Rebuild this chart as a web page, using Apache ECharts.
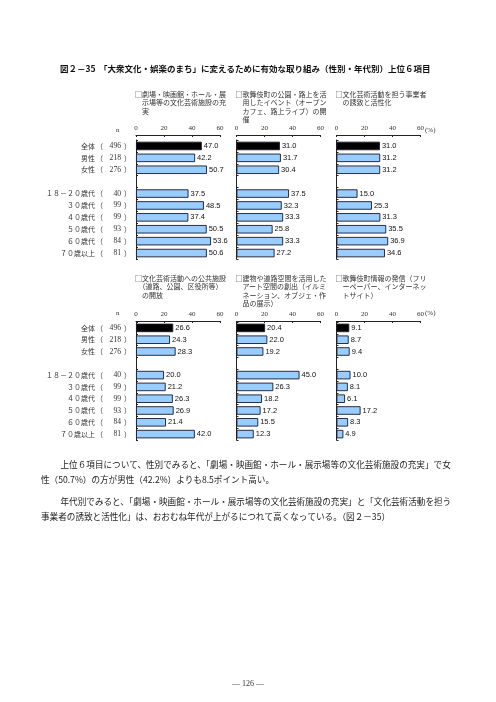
<!DOCTYPE html>
<html>
<head>
<meta charset="utf-8">
<script src="https://cdn.jsdelivr.net/npm/echarts@6/dist/echarts.min.js"></script>
<style>
html,body{margin:0;padding:0;background:#fff;}
#chart{width:496px;height:702px;}
</style>
</head>
<body>
<div id="chart"></div>
<script>
// ---- data ----
var categories = ['全体','男性','女性','','１８－２０歳代','３０歳代','４０歳代','５０歳代','６０歳代','７０歳以上'];
var nCounts = ['496','218','276','','40','99','99','93','84','81'];
var xTicks = [0, 20, 40, 60];
var theatre = [47.0, 42.2, 50.7, null, 37.5, 48.5, 37.4, 50.5, 53.6, 50.6];
var streetEvent = [31.0, 31.7, 30.4, null, 37.5, 32.3, 33.3, 25.8, 33.3, 27.2];
var businessAttract = [31.0, 31.2, 31.2, null, 15.0, 25.3, 31.3, 35.5, 36.9, 34.6];
var publicFacility = [26.6, 24.3, 28.3, null, 20.0, 21.2, 26.3, 26.9, 21.4, 42.0];
var artSpace = [20.4, 22.0, 19.2, null, 45.0, 26.3, 18.2, 17.2, 15.5, 12.3];
var infoSend = [9.1, 8.7, 9.4, null, 10.0, 8.1, 6.1, 17.2, 8.3, 4.9];
var panelTitles = [
  '□劇場・映画館・ホール・展\n　示場等の文化芸術施設の充\n　実',
  '□歌舞伎町の公園・路上を活\n　用したイベント（オープン\n　カフェ、路上ライブ）の開\n　催',
  '□文化芸術活動を担う事業者\n　の誘致と活性化',
  '□文化芸術活動への公共施設\n　（道路、公園、区役所等）\n　の開放',
  '□建物や道路空間を活用した\n　アート空間の創出（イルミ\n　ネーション、オブジェ・作\n　品の展示）',
  '□歌舞伎町情報の発信（フリ\n　ーペーパー、インターネッ\n　トサイト）'
];
var titleNo = '図２－35';
var titleText = '「大衆文化・娯楽のまち」に変えるために有効な取り組み（性別・年代別）上位６項目';
var bodyLines = [
  '上位６項目について、性別でみると、「劇場・映画館・ホール・展示場等の文化芸術施設の充実」で女',
  '性（50.7%）の方が男性（42.2%）よりも8.5ポイント高い。',
  '年代別でみると、「劇場・映画館・ホール・展示場等の文化芸術施設の充実」と「文化芸術活動を担う',
  '事業者の誘致と活性化」は、おおむね年代が上がるにつれて高くなっている。（図２－35）'
];
var pageNo = '― 126 ―';

// ---- layout ----
var seriesList = [theatre, streetEvent, businessAttract, publicFacility, artSpace, infoSend];
var colLeft = [136, 236.5, 336.5];
var plotW = 84;
var rows = [
  {top: 140, height: 119, offset: 5, head: 90, tick: 130},
  {top: 322, height: 118, offset: 1, head: 274, tick: 313}
];
var serifFont = '"Liberation Serif","Noto Sans CJK JP",serif';
var cjkFont = '"Noto Sans CJK JP",sans-serif';

var grids = [], xAxes = [], yAxes = [], series = [], graphics = [];
for (var p = 0; p < 6; p++) {
  var r = rows[Math.floor(p / 3)];
  var c = p % 3;
  grids.push({left: colLeft[c], width: plotW, top: r.top, height: r.height, containLabel: false});
  xAxes.push({
    gridIndex: p, type: 'value', position: 'top', offset: r.offset,
    min: xTicks[0], max: xTicks[xTicks.length - 1], interval: xTicks[1] - xTicks[0],
    axisLine: {show: true, lineStyle: {color: '#222', width: 1}},
    axisTick: {show: true, inside: true, length: 2, lineStyle: {color: '#222'}},
    splitLine: {show: false},
    axisLabel: {fontSize: 7, color: '#333', fontFamily: serifFont, margin: 3}
  });
  var showLabels = (c === 0);
  yAxes.push({
    gridIndex: p, type: 'category', inverse: true, data: categories,
    axisLine: {show: true, lineStyle: {color: '#222', width: 1}},
    axisTick: {show: true, inside: true, length: 2, lineStyle: {color: '#222'}},
    axisLabel: {
      show: showLabels, interval: 0, margin: 5, color: '#333',
      formatter: function (v, i) {
        if (!v) return '';
        return '{a|' + v + '}{b|（}{c|' + nCounts[i] + '}{d|）}';
      },
      rich: {
        a: {width: 59, align: 'right', fontSize: 7, fontFamily: cjkFont, color: '#333'},
        b: {width: 8, align: 'right', fontSize: 7, fontFamily: cjkFont, color: '#333'},
        c: {width: 18, align: 'right', fontSize: 7.6, fontFamily: serifFont, color: '#333'},
        d: {width: 10, align: 'right', fontSize: 7, fontFamily: cjkFont, color: '#333'}
      }
    }
  });
  var vals = seriesList[p];
  series.push({
    type: 'bar', xAxisIndex: p, yAxisIndex: p, barWidth: 8.5,
    data: vals.map(function (v, i) {
      return {value: v, itemStyle: {color: i === 0 ? '#000000' : '#99ccff'}};
    }),
    itemStyle: {borderColor: '#1a1a2a', borderWidth: 0.9},
    label: {
      show: true, position: 'right', distance: 2,
      fontSize: 7.5, fontFamily: '"Liberation Sans Narrow","Liberation Sans",Arial,sans-serif',
      color: '#111',
      formatter: function (d) { return d.value == null ? '' : d.value.toFixed(1); }
    },
    silent: true, animation: false
  });
  graphics.push({
    type: 'text', left: colLeft[c] - 1, top: r.head,
    style: {text: panelTitles[p], fontSize: 7, lineHeight: 8.5, fontFamily: cjkFont, fill: '#333'}
  });
}
// n labels and (%) labels
rows.forEach(function (r) {
  graphics.push({type: 'text', x: 116, y: r.tick, style: {text: 'n', fontSize: 7, fontFamily: serifFont, fill: '#333', verticalAlign: 'middle'}});
  graphics.push({type: 'text', x: 425, y: r.tick, style: {text: '(%)', fontSize: 7, fontFamily: serifFont, fill: '#333', verticalAlign: 'middle'}});
});
// title
graphics.push({type: 'text', x: 60, y: 69, style: {text: titleNo, fontSize: 8.5, fontWeight: 'bold', fontFamily: cjkFont, fill: '#111', verticalAlign: 'middle'}});
graphics.push({type: 'text', x: 99, y: 69, style: {text: titleText, fontSize: 8.5, fontWeight: 'bold', fontFamily: cjkFont, fill: '#111', verticalAlign: 'middle'}});
// body
var bodyY = [464.3, 480, 501.7, 516.7];
var bodyX = [60.5, 41, 60.5, 41];
bodyLines.forEach(function (t, i) {
  graphics.push({type: 'text', x: bodyX[i], y: bodyY[i], style: {text: t, fontSize: 8.6, fontFamily: cjkFont, fill: '#222', verticalAlign: 'middle'}});
});
graphics.push({type: 'text', x: 248, y: 684, style: {text: pageNo, fontSize: 8, fontFamily: serifFont, fill: '#333', align: 'center', verticalAlign: 'middle'}});

var chart = echarts.init(document.getElementById('chart'), null, {renderer: 'canvas', width: 496, height: 702});
chart.setOption({
  backgroundColor: '#ffffff',
  animation: false,
  grid: grids, xAxis: xAxes, yAxis: yAxes, series: series, graphic: graphics
});
</script>
</body>
</html>
